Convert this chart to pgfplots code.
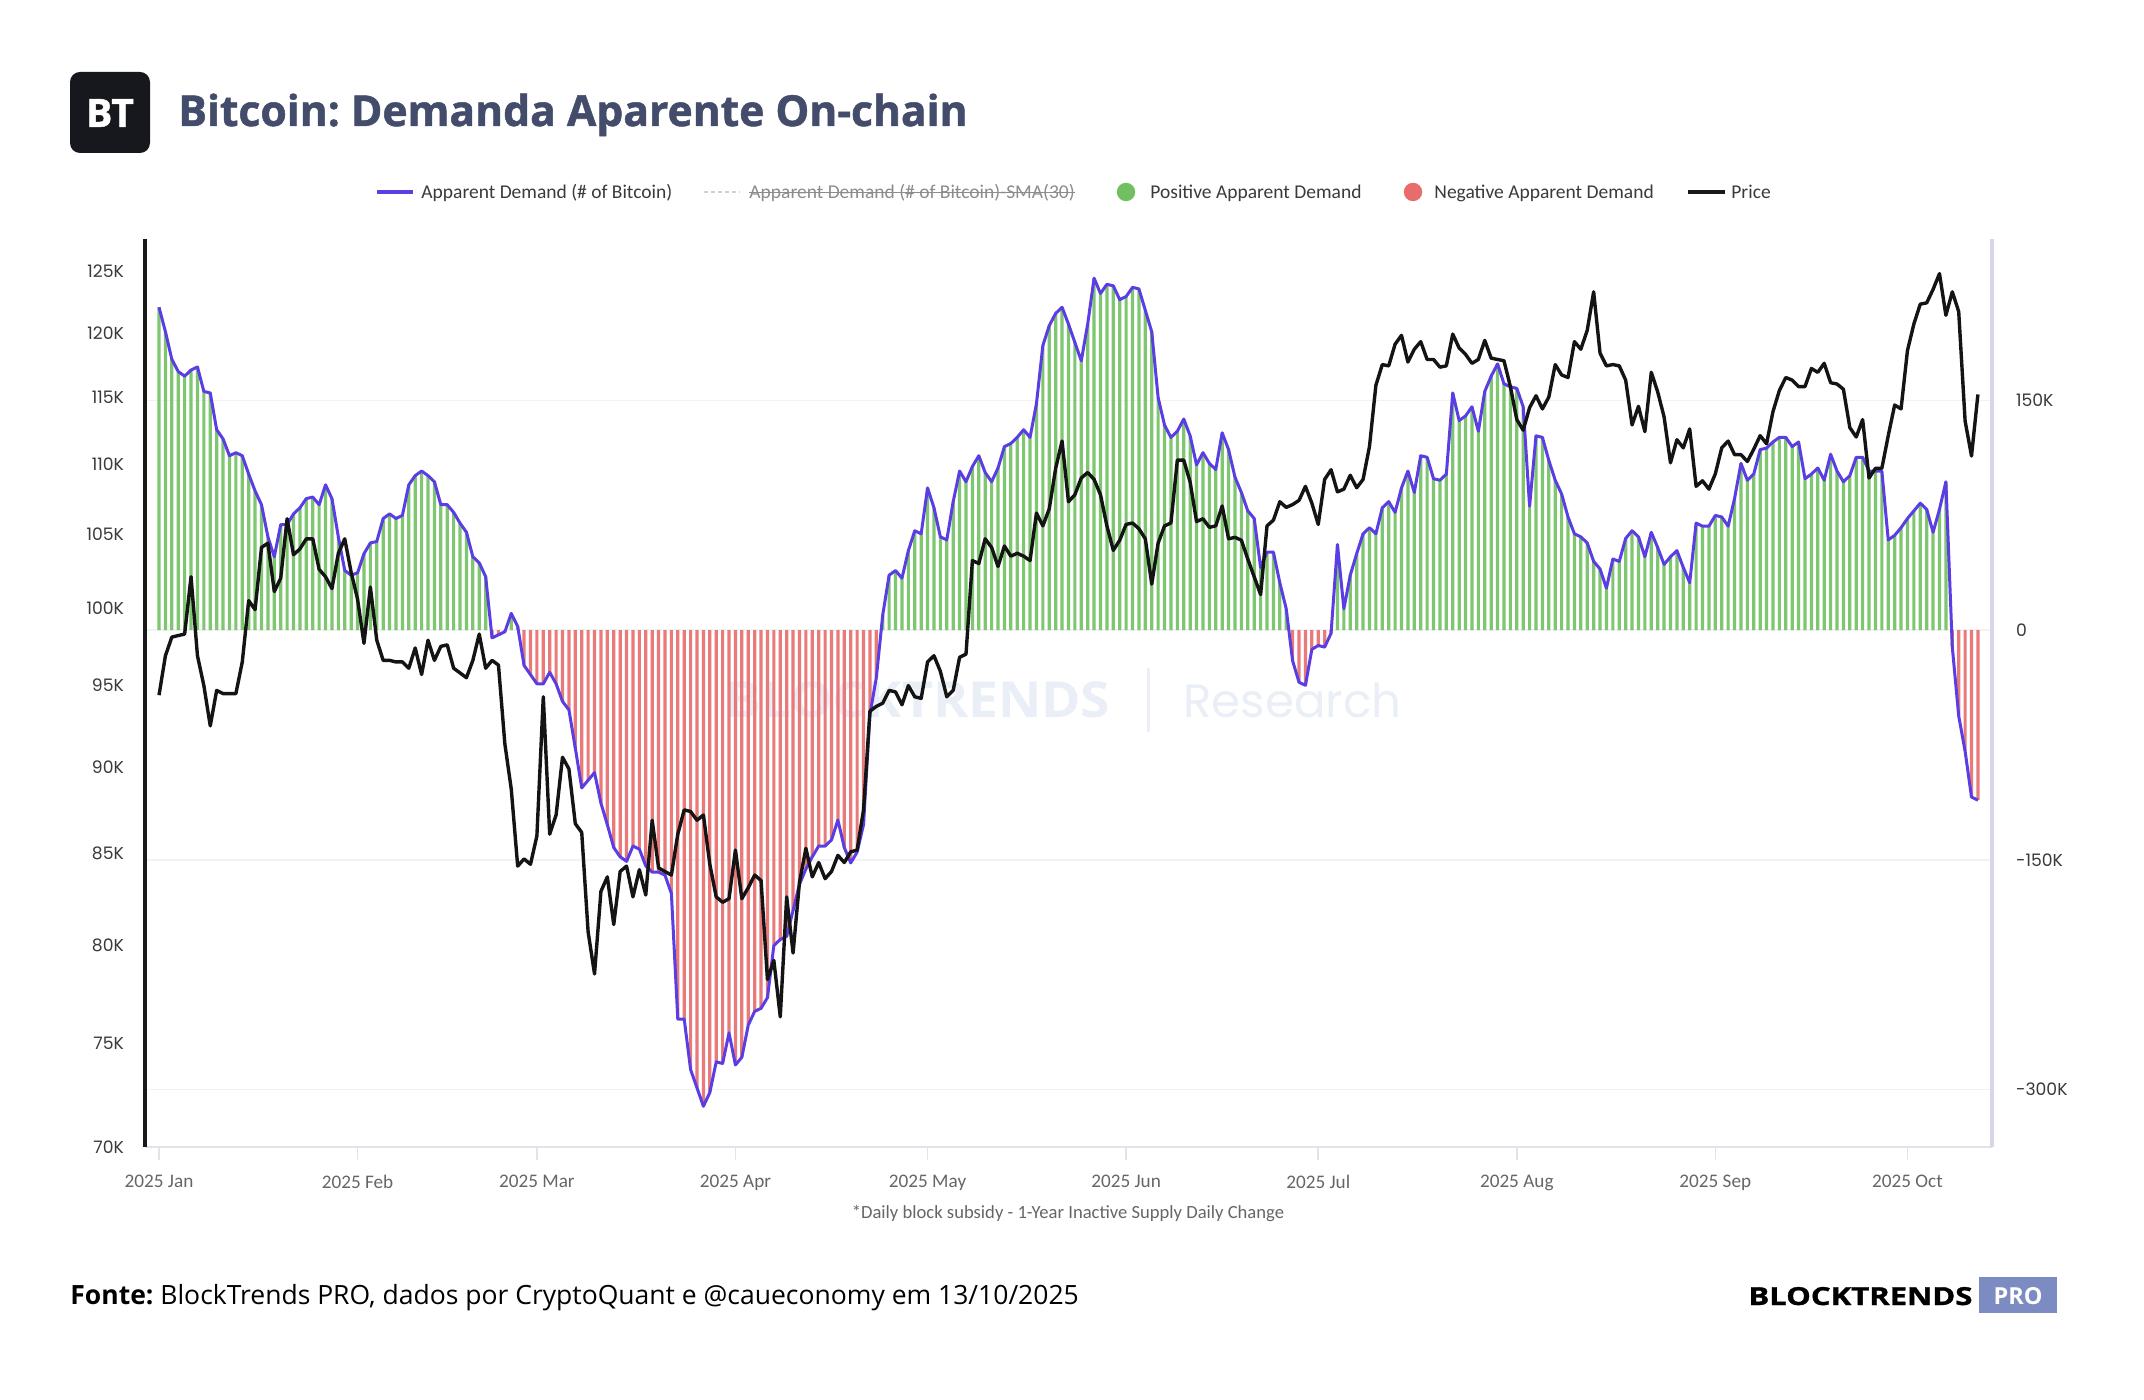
\documentclass[border=0pt]{standalone}
\usepackage{pgfplots}
\pgfplotsset{compat=1.18}
\usepackage{pgfplotstable}
\usepackage{fontspec}
\setmainfont{Open Sans}
\newfontfamily\osans{Open Sans}
\newfontfamily\osheavy{Open Sans}[BoldFeatures={FakeBold=1.2}]
\newfontfamily\carl{Carlito}
\newfontfamily\pop{Poppins}
\newcommand\fs[1]{\fontsize{#1}{#1}\selectfont}
\frenchspacing
\definecolor{demblue}{HTML}{5A3EE4}
\definecolor{posg}{RGB}{112,192,96}
\definecolor{negr}{RGB}{232,108,108}
\definecolor{titlec}{HTML}{434C6A}
\definecolor{logoc}{HTML}{16181D}
\definecolor{axgray}{HTML}{E2E2EA}
\definecolor{axlav}{HTML}{D6D6E4}
\definecolor{gridc}{HTML}{F2F2F4}
\definecolor{tickgray}{HTML}{666666}
\definecolor{labc}{HTML}{3A3A3A}
\definecolor{wm}{HTML}{EAEEF6}
\definecolor{proc}{HTML}{7C8CC2}

\pgfplotstableread{
d p a
0 94.4 211
1 96.9 195
2 98.1 177
3 98.2 169
4 98.3 166
5 102.1 170
6 96.9 172
7 95.0 156
8 92.5 155
9 94.7 131
10 94.5 125
11 94.5 114
12 94.5 116
13 96.5 114
14 100.5 102
15 99.9 91
16 104.1 82
17 104.4 61
18 101.1 48
19 102.0 69
20 106.1 69
21 103.6 76
22 104.0 80
23 104.7 86
24 104.7 87
25 102.6 82
26 102.1 95
27 101.3 86
28 103.7 61
29 104.7 39
30 102.4 36
31 100.6 37.5
32 97.7 50
33 101.4 57
34 97.9 58
35 96.6 73
36 96.6 76
37 96.5 73
38 96.5 75
39 96.1 95
40 97.4 101
41 95.7 104
42 97.9 101
43 96.6 97
44 97.5 82
45 97.6 82
46 96.1 77
47 95.8 70
48 95.5 64
49 96.6 48
50 98.3 44
51 96.1 35
52 96.6 -5
53 96.3 -3
54 91.4 -1
55 88.7 11
56 84.3 2.5
57 84.7 -23
58 84.4 -29
59 86.0 -35
60 94.3 -35
61 86.1 -27.5
62 87.2 -35
63 90.6 -46.5
64 89.9 -52
65 86.7 -77
66 86.2 -103
67 80.7 -98
68 78.5 -93
69 82.9 -113
70 83.7 -127
71 81.1 -142
72 84.0 -148
73 84.3 -151
74 82.6 -141
75 84.1 -143
76 82.7 -154
77 86.9 -158
78 84.2 -158
79 84.0 -160
80 83.8 -172
81 86.1 -254
82 87.5 -254
83 87.4 -287
84 86.9 -299
85 87.2 -311
86 84.4 -302
87 82.6 -282
88 82.3 -283
89 82.5 -263
90 85.2 -284
91 82.5 -279
92 83.1 -258
93 83.8 -249
94 83.5 -247
95 78.2 -240
96 79.2 -206
97 76.3 -202
98 82.6 -200
99 79.6 -183
100 83.4 -166
101 85.3 -156
102 83.7 -148
103 84.5 -141
104 83.6 -141
105 84.0 -137
106 84.9 -124
107 84.5 -142
108 85.1 -152
109 85.2 -145
110 87.5 -127
111 93.4 -55
112 93.7 -31
113 93.9 10
114 94.7 36
115 94.6 39
116 93.8 34
117 95.0 52
118 94.3 65
119 94.2 63
120 96.5 93
121 96.9 80
122 95.9 61
123 94.3 59
124 94.7 84
125 96.8 104
126 97.0 97
127 103.2 107
128 103.0 114
129 104.7 103
130 104.1 97
131 102.8 106
132 104.2 120
133 103.5 122
134 103.7 126
135 103.5 131
136 103.2 126
137 106.5 148
138 105.6 186
139 106.8 199
140 109.7 207
141 111.7 211
142 107.3 200
143 107.8 188
144 109.0 176
145 109.4 200
146 108.9 230
147 107.8 220
148 105.6 226
149 103.9 225
150 104.6 216
151 105.7 218
152 105.8 224
153 105.4 223
154 104.7 209
155 101.6 195
156 104.4 152
157 105.6 134
158 105.8 126
159 110.3 130
160 110.3 138
161 108.7 127
162 105.9 108
163 106.1 116
164 105.5 109
165 105.6 105
166 107.0 129
167 104.7 118
168 104.8 100
169 104.6 90
170 103.3 78
171 102.1 73
172 100.9 41
173 105.6 51
174 106.0 51
175 107.3 31
176 106.9 14
177 107.1 -20
178 107.4 -34
179 108.4 -36
180 107.2 -12.5
181 105.7 -10
182 108.9 -11
183 109.6 -2
184 108.0 56
185 108.2 14
186 109.2 36
187 108.3 50
188 108.9 63
189 111.3 67
190 115.9 63
191 117.5 80
192 117.4 84
193 119.1 77
194 119.8 93
195 117.7 104
196 118.7 90
197 119.3 114
198 117.9 113
199 117.9 99
200 117.3 98
201 117.4 102
202 119.9 155
203 118.8 137
204 118.3 140
205 117.6 146
206 117.9 130
207 119.4 156
208 118.0 166
209 117.9 174
210 117.8 161
211 115.8 159
212 113.3 158
213 112.5 146
214 114.2 81
215 115.1 127
216 114.1 126
217 115.0 111
218 117.5 98
219 116.7 89
220 116.5 74
221 119.3 63
222 118.7 61
223 120.2 57
224 123.3 45
225 118.4 40
226 117.4 27.5
227 117.5 46.5
228 117.4 45
229 116.3 60
230 112.9 65
231 114.3 61
232 112.4 48
233 116.9 64
234 115.4 54
235 113.5 43
236 110.1 48
237 111.8 52
238 111.2 41
239 112.6 31
240 108.4 70
241 108.8 68
242 108.2 68
243 109.3 75
244 111.2 74
245 111.7 68
246 110.7 86
247 110.7 109
248 110.2 98
249 111.1 102
250 112.1 118
251 111.5 119
252 113.9 123
253 115.5 126
254 116.5 126
255 116.3 120
256 115.8 123
257 115.8 99
258 117.2 102
259 116.9 106
260 117.6 98
261 116.1 115
262 116.0 104
263 115.6 97
264 112.7 101
265 112.0 113
266 113.3 113
267 109.0 104
268 109.7 104
269 109.7 104
270 112.1 59
271 114.4 62
272 114.1 67
273 118.6 73
274 120.7 78
275 122.3 83
276 122.4 79
277 123.5 64
278 124.8 79
279 121.4 97
280 123.3 -11
281 121.7 -56
282 113.2 -79
283 110.6 -109
284 115.2 -111
}\data

\pgfplotsset{
  base/.style={
    scale only axis, width=923.5pt, height=454pt,
    at={(72.5pt,-573.5pt)}, anchor=south west,
    xmin=-2.19, xmax=286.2,
  }
}

\begin{document}
\begin{tikzpicture}
\fill[white] (0,0) rectangle (1072pt,-700pt);
% logo and title
\fill[logoc, rounded corners=5pt] (35pt,-36pt) rectangle (75pt,-76.5pt);
\node[text=white, inner sep=0] at (55pt,-56.5pt) {\osheavy\bfseries\fs{19.5pt}BT};
\node[anchor=base west, inner sep=0, text=titlec] at (89pt,-63pt) {\osheavy\bfseries\fs{21.3pt}Bitcoin: Demanda Aparente On-chain};
% legend
\draw[demblue, line width=1.6pt] (188.5pt,-96pt) -- (206.5pt,-96pt);
\node[anchor=base west, inner sep=0, text=labc] at (210.5pt,-99.3pt) {\carl\fs{9.75pt}Apparent Demand (\# of Bitcoin)};
\draw[black!18, line width=1pt, dash pattern=on 2pt off 1.5pt] (352pt,-96pt) -- (370pt,-96pt);
\node[anchor=base west, inner sep=0, text=black!45] (sma) at (374.5pt,-99.3pt) {\carl\fs{9.75pt}Apparent Demand (\# of Bitcoin)-SMA(30)};
\draw[black!45, line width=0.6pt] ([yshift=3.2pt]sma.base west) -- ([yshift=3.2pt]sma.base east);
\fill[posg] (563pt,-96pt) circle (4.6pt);
\node[anchor=base west, inner sep=0, text=labc] at (575pt,-99.3pt) {\carl\fs{9.75pt}Positive Apparent Demand};
\fill[negr] (706.5pt,-96pt) circle (4.6pt);
\node[anchor=base west, inner sep=0, text=labc] at (717pt,-99.3pt) {\carl\fs{9.75pt}Negative Apparent Demand};
\draw[black!90, line width=1.7pt] (844pt,-96pt) -- (862.5pt,-96pt);
\node[anchor=base west, inner sep=0, text=labc] at (865.5pt,-99.3pt) {\carl\fs{9.75pt}Price};
% watermark
\node[anchor=base west, inner sep=0, text=wm] at (362.5pt,-359pt) {\resizebox{192.5pt}{18pt}{\osans\bfseries BLOCKTRENDS}};
\draw[wm, line width=1.5pt] (574pt,-334pt) -- (574pt,-366pt);
\node[anchor=base west, inner sep=0, text=wm] at (591.5pt,-359pt) {\resizebox{109pt}{!}{\pop\fs{20pt}Research}};

% demand axis (right)
\begin{axis}[base,
  ymin=-337.6, ymax=255.6,
  axis x line*=bottom, axis y line*=right,
  x axis line style={draw=axgray, line width=1pt, -},
  y axis line style={draw=axlav, line width=1.6pt, -},
  xtick={0,31,59,90,120,151,181,212,243,273},
  xticklabels={2025 Jan,2025 Feb,2025 Mar,2025 Apr,2025 May,2025 Jun,2025 Jul,2025 Aug,2025 Sep,2025 Oct},
  x tick style={draw=axgray, line width=0.8pt},
  tick align=outside, major tick length=6.5pt,
  xticklabel style={font=\carl\fs{9.6pt}, text=tickgray, yshift=-4pt},
  ytick={-300,-150,0,150}, yticklabels={-300K,-150K,0,150K},
  y tick style={draw=none},
  yticklabel style={font=\pop\fs{8.6pt}, text=labc, anchor=west, xshift=2pt},
  ymajorgrids, grid style={draw=gridc, line width=0.8pt},
]
\addplot[ybar, bar width=0.5, bar shift=0pt, draw=none, fill=posg, fill opacity=0.9,
  restrict y to domain=0.001:1000] table[x=d, y=a] {\data};
\addplot[ybar, bar width=0.5, bar shift=0pt, draw=none, fill=negr, fill opacity=0.9,
  restrict y to domain=-1000:-0.001] table[x=d, y=a] {\data};
\addplot[demblue, line width=1.5pt, line join=round, no markers] table[x=d, y=a] {\data};
\end{axis}

% price axis (left, log)
\begin{axis}[base,
  ymode=log, ymin=70, ymax=127.7,
  axis x line=none, axis y line*=left,
  y axis line style={draw=black!90, line width=1.8pt, -},
  ytick={70,75,80,85,90,95,100,105,110,115,120,125},
  yticklabels={70K,75K,80K,85K,90K,95K,100K,105K,110K,115K,120K,125K},
  y tick style={draw=none}, minor y tick num=0, yminorticks=false,
  yticklabel style={font=\pop\fs{8.6pt}, text=labc, anchor=east, xshift=-7pt},
]
\addplot[black!92, line width=1.7pt, line join=round, no markers] table[x=d, y=p] {\data};
\end{axis}

% caption
\node[text=tickgray, inner sep=0] at (534pt,-606.5pt) {\carl\fs{9.3pt}*Daily block subsidy - 1-Year Inactive Supply Daily Change};
% footer
\node[anchor=base west, inner sep=0, text=black] at (35pt,-652pt) {\osans\fs{13.25pt}\textbf{Fonte:} BlockTrends PRO, dados por CryptoQuant e @caueconomy em 13/10/2025};
\node[anchor=base west, inner sep=0, text=black] at (874pt,-652.5pt) {\resizebox{112pt}{9pt}{\osheavy\bfseries BLOCKTRENDS}};
\fill[proc] (989.5pt,-638.5pt) rectangle (1028.5pt,-656.5pt);
\node[anchor=base, inner sep=0, text=white] at (1009pt,-652pt) {\resizebox{!}{8.5pt}{\osans\bfseries PRO}};
\end{tikzpicture}
\end{document}
